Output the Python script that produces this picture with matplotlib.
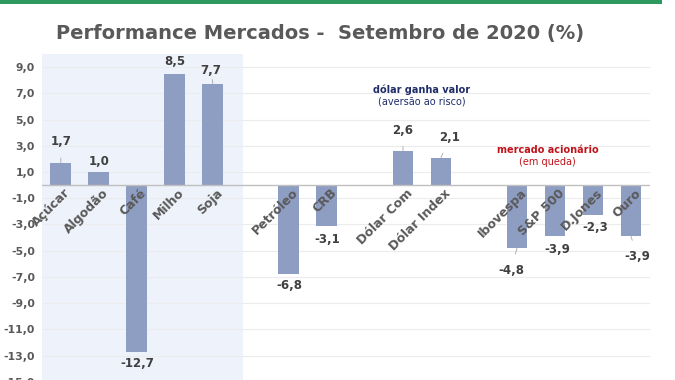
import matplotlib.pyplot as plt
from matplotlib.patches import Rectangle

# categorias (None = espaco vazio entre grupos)
categorias = ["Açúcar", "Algodão", "Café", "Milho", "Soja", None,
              "Petróleo", "CRB", None, "Dólar Com", "Dólar Index", None,
              "Ibovespa", "S&P 500", "D.Jones", "Ouro"]
valores = [1.7, 1.0, -12.7, 8.5, 7.7, None,
           -6.8, -3.1, None, 2.6, 2.1, None,
           -4.8, -3.9, -2.3, -3.9]
# deslocamento dos rotulos de valor (px), e se tem linha guia
rot_dx = [0, 0, 0, 0, -2, 0, 0, 0, 0, 0, 9, 0, -6, 2, 2, 6]
rot_dy = [21, 11, -12, 12, 14, 0, -11, -14, 0, 21, 20, 0, -22, -13, -12, -20]
guia = [True, False, False, False, True, False, False, False, False,
        True, True, False, True, False, False, True]
yticks = [9, 7, 5, 3, 1, -1, -3, -5, -7, -9, -11, -13, -15]

cinza = "#595959"
cor_barra = "#8e9dc2"

fig = plt.figure(figsize=(6.75, 3.8), dpi=100)
ax = fig.add_axes([0.062, -0.005, 0.901, 0.863])

# faixa dos agricolas
ax.add_patch(Rectangle((-0.5, -15), 5.29, 25, color="#eef2fa", zorder=0, lw=0))

xs = [i for i, c in enumerate(categorias) if c is not None]
vs = [valores[i] for i in xs]
ax.bar(xs, vs, width=0.55, color=cor_barra, zorder=3)

ax.set_xlim(-0.5, 15.5)
ax.set_ylim(-15, 10)
ax.set_yticks(yticks)
ax.set_yticklabels([f"{t:.1f}".replace(".", ",") for t in yticks],
                   fontsize=7.8, color=cinza, fontweight="bold")
ax.set_xticks([])
ax.tick_params(axis="y", length=0, pad=5)
for s in ax.spines.values():
    s.set_visible(False)
ax.grid(axis="y", color="#ececec", lw=0.8, zorder=1)
ax.axhline(0, color="#bfbfbf", lw=1, zorder=4)

px = 0.72  # pontos por pixel
for i in xs:
    v = valores[i]
    ax.annotate(f"{v:.1f}".replace(".", ","), xy=(i, v),
                xytext=(rot_dx[i] * px, rot_dy[i] * px), textcoords="offset points",
                ha="center", va="center", fontsize=8.5, fontweight="bold", color="#404040",
                arrowprops=dict(arrowstyle="-", color="#a6a6a6", lw=0.6,
                                shrinkA=5, shrinkB=0) if guia[i] else None,
                zorder=5)
    ax.text(i + 0.2, -0.45, categorias[i], rotation=45, rotation_mode="anchor",
            ha="right", va="center", fontsize=9, fontweight="bold", color=cinza, zorder=6)

ax.text(9.5, 7.3, "dólar ganha valor", ha="center", va="center",
        fontsize=7, fontweight="bold", color="#1f2d6b")
ax.text(9.5, 6.4, "(aversão ao risco)", ha="center", va="center",
        fontsize=7, color="#1f2d6b")
ax.text(12.8, 2.7, "mercado acionário", ha="center", va="center",
        fontsize=7, fontweight="bold", color="#c0141c")
ax.text(12.8, 1.8, "(em queda)", ha="center", va="center",
        fontsize=7, color="#c0141c")

fig.text(0.474, 0.913, "Performance Mercados -  Setembro de 2020 (%)", ha="center",
         va="center", fontsize=14, fontweight="bold", color=cinza)

fig.add_artist(Rectangle((0, 0.99), 0.98, 0.012, transform=fig.transFigure,
                         color="#2e9a60", lw=0))

fig.savefig("out.png", dpi=100)
